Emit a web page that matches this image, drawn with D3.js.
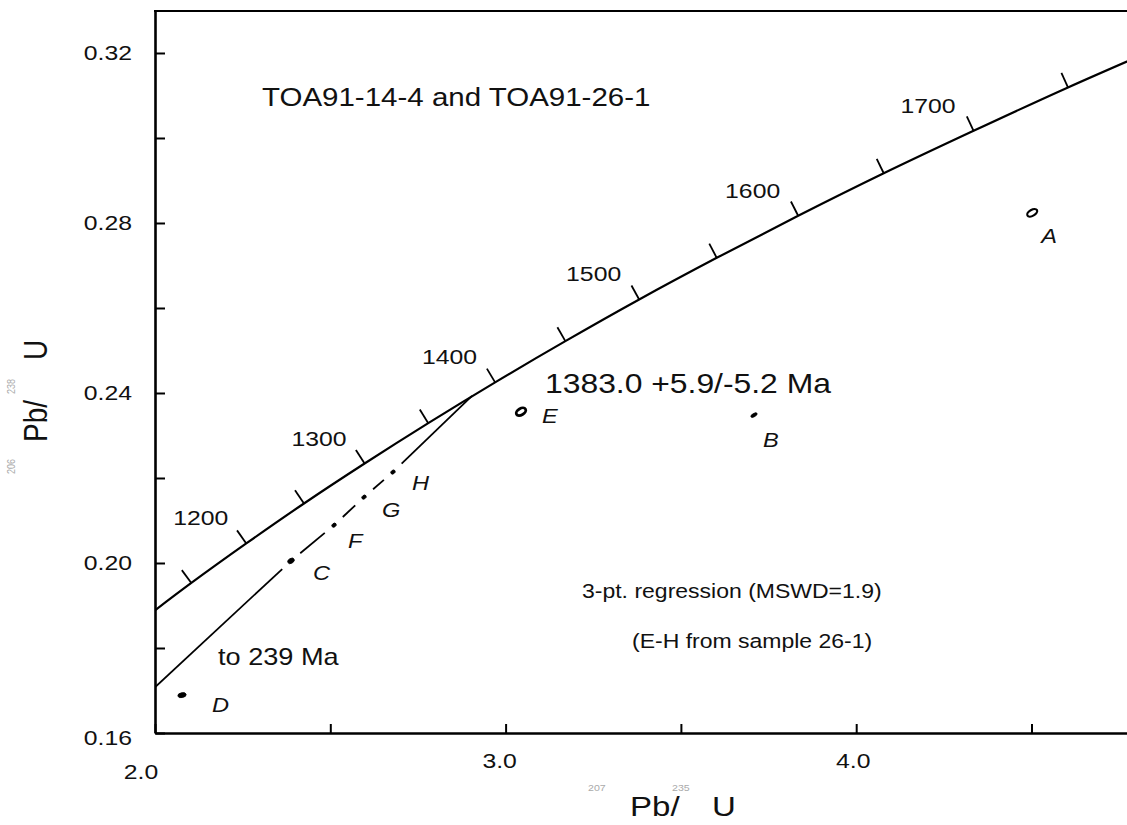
<!DOCTYPE html>
<html>
<head>
<meta charset="utf-8">
<script src="https://cdn.jsdelivr.net/npm/d3@7"></script>
<style>
  body { margin: 0; background: #fff; overflow: hidden; }
  svg { display: block; }
  text { font-family: "Liberation Sans", Arial, Helvetica, sans-serif; fill: #111; }
</style>
</head>
<body>
<svg id="mainsvg" width="1127" height="825"></svg>
<script>
// concordia points (age in Ma, 207Pb/235U, 206Pb/238U)
const concAges = [1100, 1150, 1200, 1250, 1300, 1350, 1400, 1450, 1500, 1550, 1600, 1650, 1700, 1750, 1800];
const concX = [1.9545, 2.1036, 2.2603, 2.4249, 2.5978, 2.7794, 2.9701, 3.1705, 3.3810, 3.6022, 3.8345, 4.0785, 4.3348, 4.6040, 4.8869];
const concY = [0.1860, 0.1953, 0.2046, 0.2140, 0.2234, 0.2329, 0.2425, 0.2522, 0.2620, 0.2718, 0.2817, 0.2917, 0.3017, 0.3119, 0.3221];
const labelledAges = [1200, 1300, 1400, 1500, 1600, 1700];

// analyses
const spotNames = ['A', 'B', 'C', 'D', 'E', 'F', 'G', 'H'];
const spotX = [4.502, 3.7085, 2.3879, 2.077, 3.0439, 2.5106, 2.5961, 2.6788];
const spotY = [0.2824, 0.2348, 0.2005, 0.1689, 0.2356, 0.2089, 0.2155, 0.2214];

// discordia: lower and upper intercepts
const interceptAges = [239, 1383];
const interceptX = [0.2654, 2.9042];
const interceptY = [0.0378, 0.2393];
const onDiscordia = ['C', 'F', 'G', 'H'];

// axes
const xTicks = [2.0, 2.5, 3.0, 3.5, 4.0, 4.5];
const xTickLabels = ['2.0', '', '3.0', '', '4.0', ''];
const yTicks = [0.16, 0.18, 0.20, 0.22, 0.24, 0.26, 0.28, 0.30, 0.32];
const yTickLabels = ['0.16', '', '0.20', '', '0.24', '', '0.28', '', '0.32'];

const svg = d3.select('#mainsvg');
const width = +svg.attr('width');
const height = +svg.attr('height');
const margin = {top: 11, right: 0, bottom: 92, left: 155};
const innerWidth = width - margin.left - margin.right;
const innerHeight = height - margin.top - margin.bottom;
const SX = 1.18; // the scan's lettering is wide

const xScale = d3.scaleLinear().domain([2.0, 4.7724]).range([0, innerWidth]);
const yScale = d3.scaleLinear().domain([0.16, 0.32988]).range([innerHeight, 0]);

const g = svg.append('g').attr('id', 'maingroup')
    .attr('transform', `translate(${margin.left}, ${margin.top})`);

svg.append('defs').append('clipPath').attr('id', 'plotclip')
  .append('rect').attr('width', innerWidth).attr('height', innerHeight);

function addText(parent, x, y, str, size, anchor) {
  return parent.append('text')
    .attr('transform', `translate(${x},${y}) scale(${SX},1)`)
    .attr('font-size', size)
    .attr('text-anchor', anchor || 'start')
    .text(str);
}

// axes, ticks pointing inward
const xAxis = d3.axisBottom(xScale).tickValues(xTicks).tickSize(-9).tickSizeOuter(0);
const yAxis = d3.axisLeft(yScale).tickValues(yTicks).tickSize(-10).tickSizeOuter(0);
const xAxisG = g.append('g').attr('transform', `translate(0, ${innerHeight})`).call(xAxis);
const yAxisG = g.append('g').call(yAxis);
[xAxisG, yAxisG].forEach(a => {
  a.select('.domain').attr('stroke', '#000').attr('stroke-width', 2.6);
  a.selectAll('.tick line').attr('stroke', '#000').attr('stroke-width', 2);
  a.selectAll('.tick text').remove();
});
g.append('line').attr('x1', -1).attr('x2', innerWidth).attr('y1', 0).attr('y2', 0)
  .attr('stroke', '#000').attr('stroke-width', 2);

// tick labels (the scan places them a little left / low)
const xLabelShift = {'2.0': [-14, 46], '3.0': [-6, 35], '4.0': [-3, 35]};
xTicks.forEach((v, i) => {
  const s = xTickLabels[i];
  if (!s) return;
  const sh = xLabelShift[s];
  addText(g, xScale(v) + sh[0], innerHeight + sh[1], s, 21, 'middle');
});
yTicks.forEach((v, i) => {
  const s = yTickLabels[i];
  if (!s) return;
  addText(g, -23, yScale(v) + (s === '0.16' ? 12 : 7), s, 21, 'end');
});

// axis titles with faint isotope superscripts
const xt = svg.append('g');
addText(xt, 630, 816, 'Pb/', 28);
addText(xt, 712, 816, 'U', 28);
addText(xt, 588, 791, '207', 9).style('fill', '#aaa');
addText(xt, 672, 791, '235', 9).style('fill', '#aaa');

const yt = svg.append('g').attr('transform', 'translate(47, 400) rotate(-90)');
[['Pb/', -42, 0, 28, '#111'], ['U', 40, 0, 28, '#111'],
 ['206', -74, -32, 9, '#aaa'], ['238', 6, -32, 9, '#aaa']].forEach(d => {
  yt.append('text')
    .attr('transform', `translate(${d[1]},${d[2]}) scale(1,${SX})`)
    .attr('font-size', d[3]).style('fill', d[4]).text(d[0]);
});

// plot content
const plot = g.append('g').attr('clip-path', 'url(#plotclip)');
const conc = concAges.map((a, i) => ({age: a, x: concX[i], y: concY[i]}));

plot.append('path')
  .datum(conc)
  .attr('d', d3.line().x(d => xScale(d.x)).y(d => yScale(d.y)).curve(d3.curveCatmullRom))
  .attr('fill', 'none').attr('stroke', '#000').attr('stroke-width', 2.2);

// age ticks, perpendicular to the curve on its upper-left side
const tickLen = 16;
const concTicks = conc.slice(1, -1).map((d, k) => {
  const p = conc[k], n = conc[k + 2];
  const tx = xScale(n.x) - xScale(p.x), ty = yScale(n.y) - yScale(p.y);
  const len = Math.hypot(tx, ty);
  return {age: d.age, px: xScale(d.x), py: yScale(d.y), nx: ty / len, ny: -tx / len};
});
plot.selectAll('.ageTick')
  .data(concTicks)
  .enter().append('line')
  .classed('ageTick', true)
  .attr('x1', d => d.px).attr('y1', d => d.py)
  .attr('x2', d => d.px + d.nx * tickLen).attr('y2', d => d.py + d.ny * tickLen)
  .attr('stroke', '#000').attr('stroke-width', 1.8);

concTicks.filter(d => labelledAges.includes(d.age)).forEach(d => {
  addText(g, d.px - 18, d.py - 18, d.age, 21, 'end');
});

// discordia: solid, broken between the points C..H, solid to the upper intercept
const spots = spotNames.map((n, i) => ({name: n, x: spotX[i], y: spotY[i]}));
const spotPx = n => { const s = spots.find(d => d.name === n); return [xScale(s.x), yScale(s.y)]; };
const discPts = [[xScale(interceptX[0]), yScale(interceptY[0])]]
  .concat(onDiscordia.map(spotPx))
  .concat([[xScale(interceptX[1]), yScale(interceptY[1])]]);
const gap = 12;
for (let k = 0; k < discPts.length - 1; k++) {
  const a = discPts[k], b = discPts[k + 1];
  const dx = b[0] - a[0], dy = b[1] - a[1], L = Math.hypot(dx, dy);
  const s0 = k === 0 ? 0 : gap, s1 = k === discPts.length - 2 ? 0 : gap;
  plot.append('line')
    .attr('x1', a[0] + dx * s0 / L).attr('y1', a[1] + dy * s0 / L)
    .attr('x2', b[0] - dx * s1 / L).attr('y2', b[1] - dy * s1 / L)
    .attr('stroke', '#000').attr('stroke-width', 1.8);
}

// error ellipses
const spotStyle = {
  A: {rx: 5.5, ry: 3, rot: -30, open: true},
  B: {rx: 3.5, ry: 1.6, rot: -30},
  C: {rx: 3.5, ry: 2.4, rot: -30},
  D: {rx: 4.2, ry: 2.4, rot: -12},
  E: {rx: 5.2, ry: 3.2, rot: -30, open: true},
  F: {rx: 2.4, ry: 1.8, rot: -35},
  G: {rx: 2.4, ry: 1.8, rot: -35},
  H: {rx: 2.4, ry: 1.8, rot: -35}
};
const labelOffset = {A: [9, 30], B: [9, 32], C: [22, 19], D: [30, 17], E: [21, 11], F: [14, 23], G: [18, 20], H: [19, 18]};

plot.selectAll('.spot')
  .data(spots)
  .enter().append('ellipse')
  .classed('spot', true)
  .attr('transform', d => `translate(${xScale(d.x)},${yScale(d.y)}) rotate(${spotStyle[d.name].rot})`)
  .attr('rx', d => spotStyle[d.name].rx)
  .attr('ry', d => spotStyle[d.name].ry)
  .attr('fill', d => spotStyle[d.name].open ? '#fff' : '#000')
  .attr('stroke', '#000')
  .attr('stroke-width', d => d.name === 'E' ? 2.8 : spotStyle[d.name].open ? 2.2 : 0.8);

spots.forEach(d => {
  const o = labelOffset[d.name];
  addText(g, xScale(d.x) + o[0], yScale(d.y) + o[1], d.name, 20)
    .attr('font-style', 'italic');
});

// annotations
addText(svg, 262, 106, 'TOA91-14-4 and TOA91-26-1', 25);
addText(svg, 545, 393, `${interceptAges[1]}.0 +5.9/-5.2 Ma`, 27);
addText(svg, 218, 665, `to ${interceptAges[0]} Ma`, 23);
addText(svg, 582, 598, '3-pt. regression (MSWD=1.9)', 19.5);
addText(svg, 632, 648, '(E-H from sample 26-1)', 19.5);
</script>
</body>
</html>
